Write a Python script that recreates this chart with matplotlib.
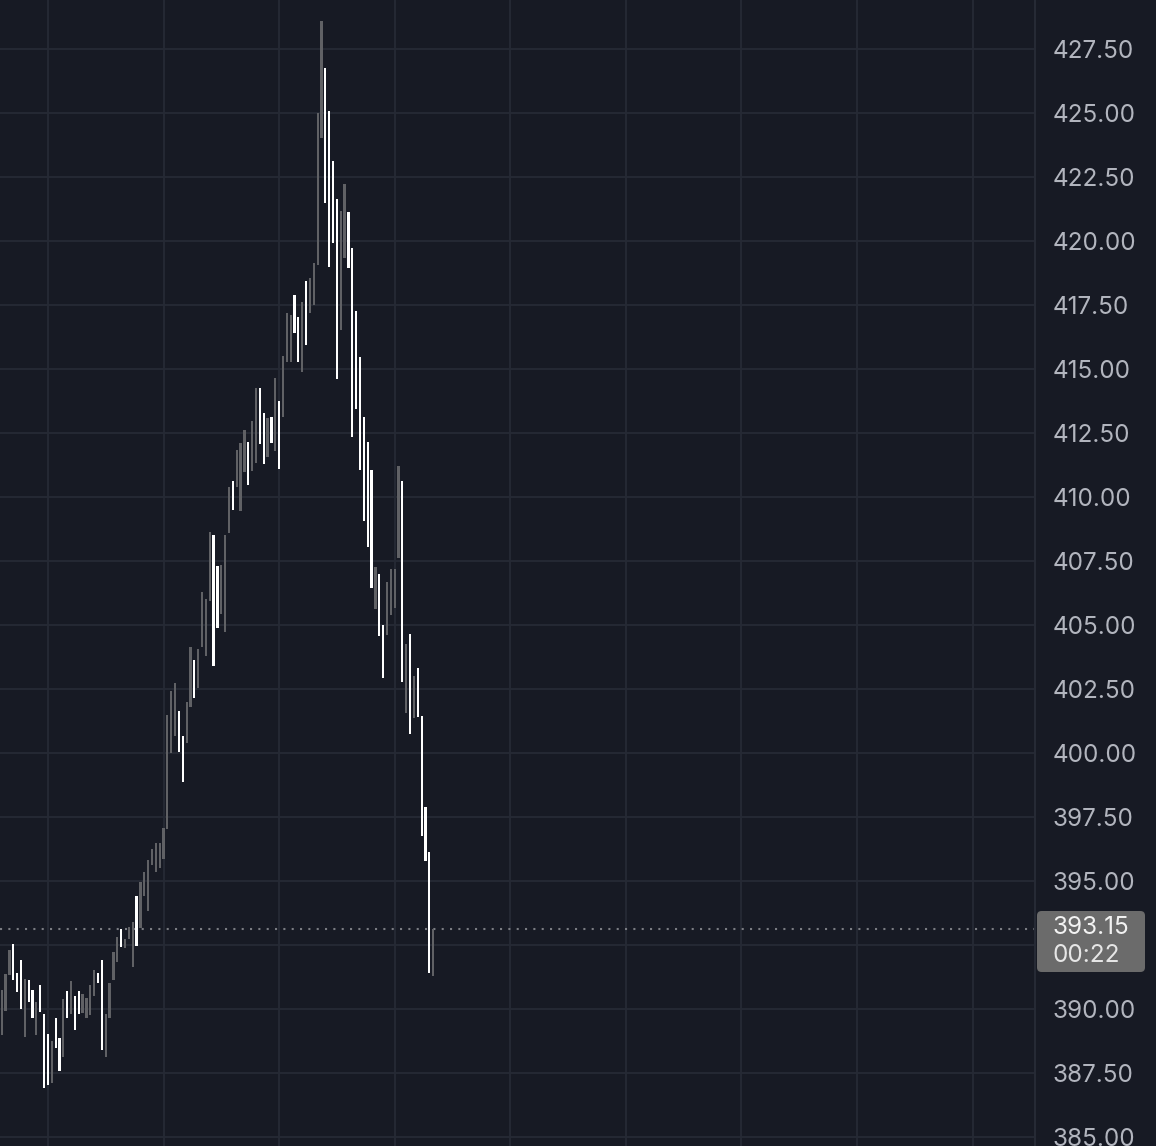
import numpy as np
import matplotlib
matplotlib.use("Agg")
import matplotlib.pyplot as plt
from matplotlib.patches import FancyBboxPatch

# one-minute candles (open, close)
opens = [389.00, 389.93, 391.34, 392.55, 391.42, 391.93, 388.92, 391.15, 390.75, 389.00,
         390.95, 389.82, 389.04, 387.12, 389.66, 388.88, 388.14, 390.71, 389.82, 390.52,
         390.71, 389.86, 389.66, 389.78, 390.52, 391.42, 391.93, 388.14, 389.66, 391.15,
         391.85, 393.14, 392.40, 392.75, 391.65, 394.43, 393.18, 394.43, 393.84, 395.64,
         395.36, 395.52, 395.87, 397.04, 400.01, 400.68, 401.65, 400.68, 400.40, 401.81,
         403.64, 402.55, 404.15, 403.80, 405.95, 408.53, 407.32, 405.44, 404.74, 408.61,
         410.64, 410.40, 409.47, 410.99, 412.16, 411.03, 411.34, 414.27, 413.29, 411.57,
         413.14, 411.81, 413.76, 413.14, 415.29, 415.29, 417.90, 417.04, 414.90, 418.45,
         417.20, 417.51, 419.07, 424.04, 426.77, 425.09, 423.14, 421.65, 416.54, 419.35,
         421.15, 419.74, 417.28, 415.48, 413.14, 412.16, 411.07, 405.64, 407.00, 405.01,
         404.62, 405.40, 405.68, 407.63, 410.64, 401.57, 404.66, 401.38, 403.33, 401.46,
         397.90, 396.15, 391.30]
closes = [390.75, 391.38, 392.32, 391.15, 390.68, 390.01, 391.18, 390.29, 389.66, 390.29,
          389.90, 386.93, 387.04, 388.76, 388.49, 387.59, 390.40, 389.66, 391.11, 389.19,
          389.82, 390.60, 390.44, 390.95, 391.54, 391.03, 388.41, 389.82, 391.03, 392.24,
          392.82, 392.43, 392.75, 393.22, 393.41, 392.47, 394.97, 395.36, 395.83, 396.26,
          396.50, 396.50, 397.08, 401.50, 402.43, 402.75, 400.05, 398.88, 402.00, 404.15,
          402.16, 404.07, 406.30, 406.03, 408.65, 403.41, 404.90, 407.36, 408.53, 410.40,
          409.50, 411.85, 412.12, 412.63, 410.48, 412.98, 414.27, 412.08, 411.30, 413.10,
          412.12, 414.66, 411.11, 415.52, 417.20, 417.12, 416.42, 415.29, 417.63, 415.95,
          418.57, 419.15, 425.01, 428.61, 421.50, 419.00, 419.93, 414.62, 421.18, 422.24,
          418.96, 412.36, 413.45, 411.07, 409.07, 408.06, 406.46, 407.28, 404.58, 402.94,
          406.69, 407.20, 407.20, 411.22, 402.79, 404.27, 400.75, 403.02, 401.42, 396.77,
          395.79, 391.42, 393.15]

last_price = 393.15
countdown = "00:22"
price_ticks = np.arange(385.0, 427.51, 2.5)

bg = "#171a24"
grid_c = "#262a35"
up_c = "#606165"
down_c = "#ffffff"
label_c = "#b2b5be"
fsize = 17.5

plt.rcParams['font.family'] = ['Inter', 'DejaVu Sans']

fig = plt.figure(figsize=(11.56, 11.46), dpi=100)
fig.patch.set_facecolor(bg)
ax = fig.add_axes([0, 0, 1035 / 1156, 1])
ax.set_facecolor(bg)

idx = np.arange(len(opens))
o = np.array(opens)
c = np.array(closes)
lo = np.minimum(o, c)
hi = np.maximum(o, c)
cols = [up_c if cc >= oo else down_c for oo, cc in zip(o, c)]
ax.bar(idx, hi - lo, bottom=lo, width=0.58, color=cols, linewidth=0, zorder=3)

ax.set_xlim(-0.44, 268.2)
ax.set_ylim(384.66, 429.43)

# grid
ax.set_xticks(np.arange(12, 268, 30))
ax.set_yticks(price_ticks)
ax.grid(True, color=grid_c, linewidth=1.3, zorder=0)
ax.set_xticklabels([])
ax.tick_params(axis='x', length=0)

ax.yaxis.tick_right()
ax.set_yticklabels(["" if abs(t - 392.5) < 0.01 else "%.2f" % t for t in price_ticks])
ax.tick_params(axis='y', length=0, pad=12.5, labelsize=fsize, labelcolor=label_c)

for s in ['top', 'left', 'bottom']:
    ax.spines[s].set_visible(False)
ax.spines['right'].set_color(grid_c)
ax.spines['right'].set_linewidth(1.5)

# last price line
ax.axhline(last_price, color="#7a7c82", linestyle=(0, (1, 3)), linewidth=1.5, zorder=2)

# price tag on the scale
box = FancyBboxPatch((1037 / 1156, (1146 - 972) / 1146), 108 / 1156, 61 / 1146,
                     boxstyle="round,pad=0,rounding_size=0.004",
                     transform=fig.transFigure, facecolor="#6b6b6b", edgecolor="none")
fig.patches.append(box)
fig.text(1052 / 1156, 1 - 928 / 1146, "%.2f" % last_price, color="#f2f2f2",
         fontsize=fsize, va='center', ha='left')
fig.text(1052 / 1156, 1 - 956 / 1146, countdown, color="#e6e6e6",
         fontsize=fsize, va='center', ha='left')

fig.savefig("out.png", dpi=100, facecolor=bg)
